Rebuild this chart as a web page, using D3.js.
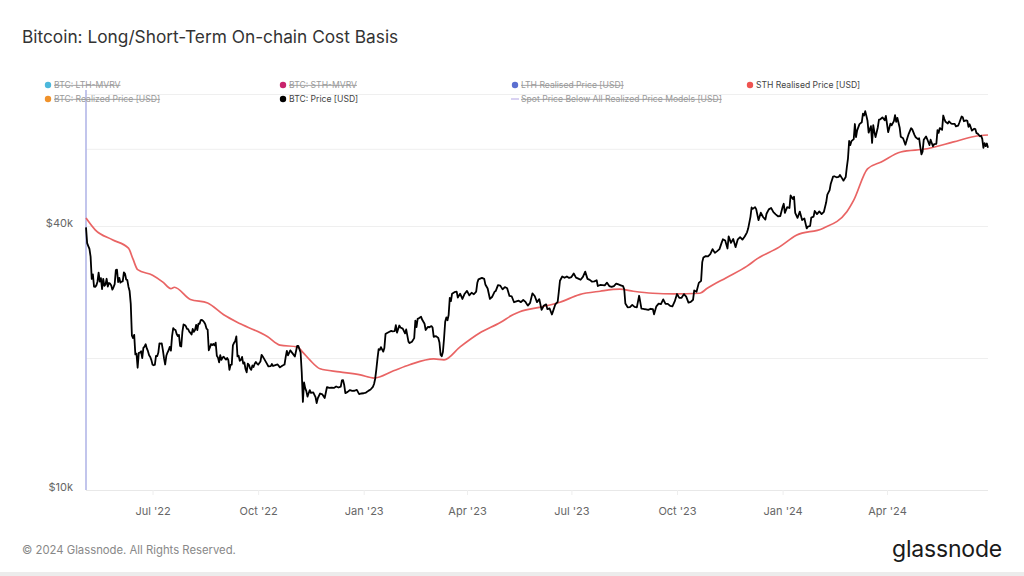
<!DOCTYPE html>
<html>
<head>
<meta charset="utf-8">
<script src="https://cdn.jsdelivr.net/npm/d3@7"></script>
<style>
  html, body { margin: 0; padding: 0; background: #fff; }
  svg { display: block; font-family: Inter, "Noto Sans", sans-serif; }
</style>
</head>
<body>
<svg id="chart" width="1024" height="576"></svg>
<script>
// ---------------- DATA ----------------
const chartTitle = "Bitcoin: Long/Short-Term On-chain Cost Basis";

const xTickDates = ["2022-07-01","2022-10-01","2023-01-01","2023-04-01","2023-07-01","2023-10-01","2024-01-01","2024-04-01"];
const xTickLabels = ["Jul '22","Oct '22","Jan '23","Apr '23","Jul '23","Oct '23","Jan '24","Apr '24"];

const yTickValues = [10000, 20000, 40000, 60000, 80000];
const yTickLabels = ["$10k", "", "$40k", "", ""];

const legendNames = ["BTC: LTH-MVRV","BTC: STH-MVRV","LTH Realised Price [USD]","STH Realised Price [USD]",
                     "BTC: Realized Price [USD]","BTC: Price [USD]","Spot Price Below All Realized Price Models [USD]"];
const legendColors = ["#4cb8dc","#c8236c","#5b6fd0","#ef5350","#f0922b","#000000","#d9d2f2"];
const legendActive = [false,false,false,true,false,true,false];

// STH Realised Price [USD]
const sthSeries = [
["2022-05-04",41700],["2022-05-12",39200],["2022-05-27",37200],["2022-06-10",35600],["2022-06-14",33600],
["2022-06-18",31800],["2022-07-01",30900],["2022-07-10",29800],["2022-07-17",28800],["2022-07-20",29000],
["2022-08-03",27200],["2022-08-18",26700],["2022-09-01",25100],["2022-09-16",23900],["2022-10-09",22400],
["2022-10-20",21400],["2022-11-04",21200],["2022-11-09",20600],["2022-11-15",19800],["2022-11-24",18900],
["2022-12-11",18600],["2022-12-29",18300],["2023-01-10",18000],["2023-01-27",18700],["2023-02-10",19300],
["2023-03-03",19900],["2023-03-12",19800],["2023-03-26",21200],["2023-04-12",22800],["2023-04-30",24100],
["2023-05-11",25100],["2023-05-17",25500],["2023-06-03",26100],["2023-06-21",26800],["2023-07-08",27900],
["2023-07-26",28400],["2023-08-12",28700],["2023-08-24",28400],["2023-09-10",28100],["2023-09-28",28000],
["2023-10-21",28100],["2023-10-27",28800],["2023-11-13",30500],["2023-12-01",32400],["2023-12-10",33700],
["2023-12-29",35800],["2024-01-13",38100],["2024-02-05",39500],["2024-02-26",43100],["2024-03-03",45800],
["2024-03-15",54000],["2024-03-27",56000],["2024-04-13",59000],["2024-05-06",60000],["2024-05-29",62200],
["2024-06-16",64000],["2024-06-28",64500]
];

// BTC: Price [USD]
const priceSeries = [
["2022-05-04",39700],["2022-05-05",36550],["2022-05-06",36000],["2022-05-07",35470],["2022-05-08",34060],
["2022-05-09",30300],["2022-05-10",31020],["2022-05-11",29100],["2022-05-12",29050],["2022-05-13",29280],
["2022-05-14",29860],["2022-05-15",31300],["2022-05-16",29880],["2022-05-17",30420],["2022-05-18",28700],
["2022-05-19",30300],["2022-05-20",29200],["2022-05-21",29430],["2022-05-22",30320],["2022-05-23",29100],
["2022-05-24",29650],["2022-05-25",29560],["2022-05-26",29270],["2022-05-27",28630],["2022-05-28",29030],
["2022-05-29",29470],["2022-05-30",31730],["2022-05-31",31800],["2022-06-01",29800],["2022-06-02",30470],
["2022-06-03",29700],["2022-06-04",29860],["2022-06-05",29900],["2022-06-06",31370],["2022-06-07",31130],
["2022-06-08",30200],["2022-06-09",30100],["2022-06-10",29090],["2022-06-11",28420],["2022-06-12",26570],
["2022-06-13",22490],["2022-06-14",22210],["2022-06-15",22580],["2022-06-16",20380],["2022-06-17",20470],
["2022-06-18",19000],["2022-06-19",20550],["2022-06-20",20570],["2022-06-21",20720],["2022-06-22",19980],
["2022-06-23",21090],["2022-06-24",21230],["2022-06-25",21500],["2022-06-26",21030],["2022-06-27",20730],
["2022-06-28",20280],["2022-06-29",20100],["2022-06-30",19780],["2022-07-01",19300],["2022-07-02",19250],
["2022-07-03",19300],["2022-07-04",20230],["2022-07-05",20190],["2022-07-06",20550],["2022-07-07",21600],
["2022-07-08",21580],["2022-07-09",21600],["2022-07-10",20850],["2022-07-11",19960],["2022-07-12",19330],
["2022-07-13",20230],["2022-07-14",20580],["2022-07-15",20830],["2022-07-16",21200],["2022-07-17",20790],
["2022-07-18",22430],["2022-07-19",23390],["2022-07-20",23230],["2022-07-21",23160],["2022-07-22",22690],
["2022-07-23",22450],["2022-07-24",22580],["2022-07-25",21310],["2022-07-26",21250],["2022-07-27",22950],
["2022-07-28",23850],["2022-07-29",23780],["2022-07-30",23650],["2022-07-31",23300],["2022-08-01",23270],
["2022-08-02",22980],["2022-08-03",22820],["2022-08-04",22630],["2022-08-05",23290],["2022-08-06",22950],
["2022-08-07",23170],["2022-08-08",23810],["2022-08-09",23160],["2022-08-10",23960],["2022-08-11",23940],
["2022-08-12",24400],["2022-08-13",24440],["2022-08-14",24310],["2022-08-15",24130],["2022-08-16",23860],
["2022-08-17",23340],["2022-08-18",23210],["2022-08-19",20830],["2022-08-20",21140],["2022-08-21",21520],
["2022-08-22",21400],["2022-08-23",21530],["2022-08-24",21370],["2022-08-25",21680],["2022-08-26",20240],
["2022-08-27",20040],["2022-08-28",19550],["2022-08-29",20290],["2022-08-30",19800],["2022-08-31",20050],
["2022-09-01",20130],["2022-09-02",19950],["2022-09-03",19830],["2022-09-04",20000],["2022-09-05",19800],
["2022-09-06",18800],["2022-09-07",19290],["2022-09-08",19320],["2022-09-09",21370],["2022-09-10",21650],
["2022-09-11",21830],["2022-09-12",22400],["2022-09-13",20170],["2022-09-14",20240],["2022-09-15",19700],
["2022-09-16",19800],["2022-09-17",20110],["2022-09-18",19420],["2022-09-19",19540],["2022-09-20",18880],
["2022-09-21",18550],["2022-09-22",19410],["2022-09-23",19300],["2022-09-24",18930],["2022-09-25",18800],
["2022-09-26",19230],["2022-09-27",19080],["2022-09-28",19410],["2022-09-29",19590],["2022-09-30",19420],
["2022-10-01",19310],["2022-10-03",19630],["2022-10-04",20340],["2022-10-05",20160],["2022-10-06",19960],
["2022-10-08",19550],["2022-10-10",19130],["2022-10-12",19160],["2022-10-13",19380],["2022-10-14",19180],
["2022-10-16",19270],["2022-10-18",19330],["2022-10-20",19040],["2022-10-22",19210],["2022-10-24",19330],
["2022-10-25",20090],["2022-10-26",20770],["2022-10-27",20290],["2022-10-29",20820],["2022-10-31",20490],
["2022-11-02",20160],["2022-11-04",21300],["2022-11-05",21310],["2022-11-07",20590],["2022-11-08",18540],
["2022-11-09",15880],["2022-11-10",17590],["2022-11-11",17070],["2022-11-12",16810],["2022-11-13",16330],
["2022-11-14",16620],["2022-11-15",16900],["2022-11-16",16660],["2022-11-18",16700],["2022-11-20",16280],
["2022-11-21",15790],["2022-11-22",16190],["2022-11-24",16600],["2022-11-26",16520],["2022-11-28",16210],
["2022-11-30",17170],["2022-12-02",17090],["2022-12-04",17110],["2022-12-06",17090],["2022-12-08",17220],
["2022-12-10",17130],["2022-12-12",17210],["2022-12-13",17780],["2022-12-14",17810],["2022-12-15",17360],
["2022-12-16",16630],["2022-12-18",16740],["2022-12-20",16900],["2022-12-22",16830],["2022-12-24",16840],
["2022-12-26",16920],["2022-12-28",16550],["2022-12-30",16600],["2023-01-01",16620],["2023-01-03",16680],
["2023-01-05",16830],["2023-01-07",16950],["2023-01-09",17180],["2023-01-10",17450],["2023-01-11",17940],
["2023-01-12",18850],["2023-01-13",19930],["2023-01-14",20950],["2023-01-15",20880],["2023-01-16",21180],
["2023-01-18",20680],["2023-01-19",21080],["2023-01-20",22680],["2023-01-21",22780],["2023-01-23",22930],
["2023-01-25",23060],["2023-01-26",23010],["2023-01-28",23030],["2023-01-29",23760],["2023-01-30",22850],
["2023-02-01",23720],["2023-02-02",23470],["2023-02-04",23330],["2023-02-06",22760],["2023-02-07",23240],
["2023-02-09",21800],["2023-02-10",21630],["2023-02-12",21790],["2023-02-14",22200],["2023-02-15",24330],
["2023-02-16",23520],["2023-02-17",24570],["2023-02-18",24630],["2023-02-20",24830],["2023-02-21",24440],
["2023-02-23",23940],["2023-02-24",23170],["2023-02-26",23560],["2023-02-27",23490],["2023-03-01",23650],
["2023-03-02",23470],["2023-03-03",22350],["2023-03-05",22430],["2023-03-07",22220],["2023-03-08",21700],
["2023-03-09",20360],["2023-03-10",20190],["2023-03-11",20630],["2023-03-12",22160],["2023-03-13",24200],
["2023-03-14",24750],["2023-03-15",24380],["2023-03-16",25060],["2023-03-17",27420],["2023-03-18",26970],
["2023-03-19",28040],["2023-03-21",28250],["2023-03-23",28330],["2023-03-24",27480],["2023-03-26",28030],
["2023-03-28",27270],["2023-03-30",28030],["2023-04-01",28450],["2023-04-03",27790],["2023-04-05",28170],
["2023-04-07",27950],["2023-04-09",28330],["2023-04-10",29680],["2023-04-11",30220],["2023-04-13",30390],
["2023-04-14",30470],["2023-04-16",30310],["2023-04-17",29430],["2023-04-19",28800],["2023-04-21",27270],
["2023-04-23",27590],["2023-04-25",28310],["2023-04-26",28420],["2023-04-28",29330],["2023-04-30",29250],
["2023-05-02",28680],["2023-05-04",29030],["2023-05-06",28850],["2023-05-08",27700],["2023-05-10",27630],
["2023-05-12",26800],["2023-05-14",26920],["2023-05-16",27020],["2023-05-18",26820],["2023-05-20",27120],
["2023-05-22",26850],["2023-05-24",26330],["2023-05-26",26720],["2023-05-28",28080],["2023-05-30",27700],
["2023-06-01",26820],["2023-06-03",27250],["2023-06-05",25750],["2023-06-07",26350],["2023-06-09",26500],
["2023-06-10",25850],["2023-06-12",25940],["2023-06-14",25130],["2023-06-15",25580],["2023-06-17",26510],
["2023-06-19",26840],["2023-06-20",28310],["2023-06-21",30000],["2023-06-23",30690],["2023-06-25",30480],
["2023-06-27",30690],["2023-06-29",30450],["2023-07-01",30590],["2023-07-03",31160],["2023-07-05",30510],
["2023-07-07",30350],["2023-07-09",30170],["2023-07-11",30620],["2023-07-13",31480],["2023-07-15",30300],
["2023-07-17",30140],["2023-07-19",29860],["2023-07-21",29910],["2023-07-23",30080],["2023-07-24",29180],
["2023-07-26",29350],["2023-07-28",29320],["2023-07-30",29280],["2023-08-01",29710],["2023-08-03",29180],
["2023-08-05",29050],["2023-08-07",29180],["2023-08-09",29560],["2023-08-11",29430],["2023-08-13",29300],
["2023-08-15",29170],["2023-08-16",28700],["2023-08-17",26620],["2023-08-19",26100],["2023-08-21",26120],
["2023-08-23",26440],["2023-08-25",26160],["2023-08-27",26100],["2023-08-29",27730],["2023-08-31",25930],
["2023-09-02",25870],["2023-09-04",25830],["2023-09-06",25750],["2023-09-08",25900],["2023-09-10",25840],
["2023-09-11",25160],["2023-09-13",26230],["2023-09-15",26600],["2023-09-17",26530],["2023-09-19",27210],
["2023-09-21",26580],["2023-09-23",26580],["2023-09-25",26300],["2023-09-27",26220],["2023-09-29",26910],
["2023-10-01",27990],["2023-10-03",27430],["2023-10-05",27430],["2023-10-07",27970],["2023-10-09",27600],
["2023-10-11",26750],["2023-10-13",26860],["2023-10-15",27160],["2023-10-16",28520],["2023-10-18",28330],
["2023-10-20",29670],["2023-10-22",29990],["2023-10-23",33090],["2023-10-24",33900],["2023-10-26",34150],
["2023-10-28",34090],["2023-10-30",34500],["2023-11-01",35420],["2023-11-03",34730],["2023-11-05",35050],
["2023-11-07",35420],["2023-11-09",36700],["2023-11-10",37310],["2023-11-12",37060],["2023-11-14",35550],
["2023-11-15",37880],["2023-11-17",36600],["2023-11-19",37360],["2023-11-21",35800],["2023-11-23",37290],
["2023-11-25",37720],["2023-11-27",37240],["2023-11-29",37850],["2023-12-01",38690],["2023-12-02",39460],
["2023-12-04",41980],["2023-12-05",44080],["2023-12-06",43770],["2023-12-08",44170],["2023-12-09",43710],
["2023-12-11",41240],["2023-12-13",42890],["2023-12-15",41930],["2023-12-17",41360],["2023-12-18",42660],
["2023-12-20",43650],["2023-12-22",43980],["2023-12-24",43010],["2023-12-26",42520],["2023-12-28",42100],
["2023-12-30",42150],["2024-01-01",44180],["2024-01-02",44950],["2024-01-03",42850],["2024-01-05",44150],
["2024-01-07",43970],["2024-01-08",46970],["2024-01-10",46100],["2024-01-11",46630],["2024-01-12",42850],
["2024-01-14",41730],["2024-01-16",43140],["2024-01-18",41270],["2024-01-20",41600],["2024-01-22",39500],
["2024-01-23",39850],["2024-01-25",40000],["2024-01-26",41810],["2024-01-28",42030],["2024-01-29",43290],
["2024-01-31",42580],["2024-02-02",43180],["2024-02-04",42580],["2024-02-06",43090],["2024-02-08",45300],
["2024-02-09",47150],["2024-02-11",48300],["2024-02-12",49960],["2024-02-14",51840],["2024-02-15",51940],
["2024-02-17",51660],["2024-02-19",51780],["2024-02-20",52280],["2024-02-22",51300],["2024-02-23",50750],
["2024-02-25",51730],["2024-02-26",54500],["2024-02-27",57070],["2024-02-28",62500],["2024-02-29",61200],
["2024-03-01",62440],["2024-03-03",63110],["2024-03-04",68330],["2024-03-05",63800],["2024-03-06",66110],
["2024-03-08",68300],["2024-03-10",68960],["2024-03-11",72120],["2024-03-12",71480],["2024-03-13",73080],
["2024-03-14",71400],["2024-03-15",69500],["2024-03-16",65300],["2024-03-18",67600],["2024-03-19",61900],
["2024-03-20",67900],["2024-03-21",65500],["2024-03-22",63800],["2024-03-24",67200],["2024-03-25",69960],
["2024-03-26",69990],["2024-03-28",70750],["2024-03-30",69700],["2024-03-31",71280],["2024-04-02",65470],
["2024-04-04",68500],["2024-04-05",67840],["2024-04-07",69360],["2024-04-08",71630],["2024-04-09",69150],
["2024-04-10",70590],["2024-04-12",67110],["2024-04-13",63900],["2024-04-15",63430],["2024-04-17",61280],
["2024-04-19",63820],["2024-04-20",64990],["2024-04-22",66840],["2024-04-23",66410],["2024-04-25",64480],
["2024-04-26",63760],["2024-04-28",63120],["2024-04-29",63410],["2024-04-30",60640],["2024-05-01",58250],
["2024-05-02",59120],["2024-05-03",62900],["2024-05-05",64030],["2024-05-06",63150],["2024-05-08",61190],
["2024-05-09",62930],["2024-05-11",60790],["2024-05-12",61450],["2024-05-14",61600],["2024-05-15",66200],
["2024-05-16",65230],["2024-05-17",66900],["2024-05-19",66270],["2024-05-20",71450],["2024-05-21",70140],
["2024-05-22",69130],["2024-05-24",68530],["2024-05-25",69300],["2024-05-27",68500],["2024-05-28",68360],
["2024-05-30",68350],["2024-05-31",67490],["2024-06-02",67760],["2024-06-03",68800],["2024-06-05",71080],
["2024-06-06",70790],["2024-06-07",69350],["2024-06-09",69650],["2024-06-10",69500],["2024-06-11",67320],
["2024-06-12",68240],["2024-06-14",66010],["2024-06-16",66650],["2024-06-17",66500],["2024-06-18",65140],
["2024-06-19",64960],["2024-06-21",64090],["2024-06-22",64250],["2024-06-23",63200],["2024-06-24",60280],
["2024-06-25",61800],["2024-06-26",60860],["2024-06-27",61670],["2024-06-28",60320]
];

// Dates flagged "Spot Price Below All Realized Price Models"
const spotBelowDates = ["2022-05-04"];

const xDomain = ["2022-05-04","2024-06-28"];
const yDomain = [10000, 80000];

// ---------------- DRAW ----------------
const parse = d3.timeParse("%Y-%m-%d");
const svg = d3.select("#chart");
const M = {left: 86, right: 988, top: 94, bottom: 490};

svg.append("rect").attr("width",1024).attr("height",576).attr("fill","#fff");

const x = d3.scaleTime().domain(xDomain.map(parse)).range([M.left, M.right]);
const y = d3.scaleLog().domain(yDomain).range([M.bottom, M.top]);

// title
svg.append("text").attr("x",22).attr("y",43)
  .attr("font-size",17.3).attr("fill","#333").text(chartTitle);

// horizontal gridlines
const gridAxis = d3.axisLeft(y).tickValues(yTickValues).tickSize(-(M.right - M.left)).tickFormat("");
const gg = svg.append("g").attr("transform",`translate(${M.left},0)`).call(gridAxis);
gg.select(".domain").remove();
gg.selectAll(".tick line").attr("stroke","#efefef").attr("stroke-width",1);

// y labels
const yAxis = d3.axisLeft(y).tickValues(yTickValues).tickSize(0).tickPadding(13)
  .tickFormat((d,i) => yTickLabels[i]);
const ya = svg.append("g").attr("transform",`translate(${M.left},0)`).call(yAxis);
ya.select(".domain").remove();
ya.selectAll("text").attr("font-family","Inter, 'Noto Sans', sans-serif")
  .attr("font-size",11).attr("fill","#666").attr("dy","0.05em");

// x axis
const xAxis = d3.axisBottom(x).tickValues(xTickDates.map(parse)).tickSize(5).tickPadding(12)
  .tickFormat((d,i) => xTickLabels[i]);
const xa = svg.append("g").attr("transform",`translate(0,${M.bottom})`).call(xAxis);
xa.select(".domain").attr("stroke","#e8e8e8").attr("d",`M${M.left},0.5H${M.right}`);
xa.selectAll(".tick line").attr("stroke","#eeeeee");
xa.selectAll("text").attr("font-family","Inter, 'Noto Sans', sans-serif")
  .attr("font-size",11).attr("fill","#666");

// spot below all realized price models marker
svg.selectAll("rect.spot").data(spotBelowDates).enter().append("rect")
  .attr("class","spot")
  .attr("x", d => x(parse(d)) - 0.75).attr("width",1.5)
  .attr("y", M.top - 4).attr("height", M.bottom - M.top + 4)
  .attr("fill","#aeb3e6");

// STH realised price line
const sthLine = d3.line().x(d => x(parse(d[0]))).y(d => y(d[1])).curve(d3.curveMonotoneX);
svg.append("path").datum(sthSeries).attr("d",sthLine)
  .attr("fill","none").attr("stroke","#e85c5c").attr("stroke-width",1.7).attr("stroke-opacity",0.95);

// price line
const priceLine = d3.line().x(d => x(parse(d[0]))).y(d => y(d[1]));
svg.append("path").datum(priceSeries).attr("d",priceLine)
  .attr("fill","none").attr("stroke","#000").attr("stroke-width",1.8).attr("stroke-linejoin","round");

// legend
const legendX = [48, 283, 515, 750];
const legendY = [85, 99];
const lg = svg.append("g");
legendNames.forEach((name, i) => {
  const col = i < 4 ? i : i - 4;
  const row = i < 4 ? 0 : 1;
  const gx = legendX[col], gy = legendY[row];
  const g = lg.append("g");
  if (i === 6) {
    g.append("line").attr("x1",gx-4).attr("x2",gx+4).attr("y1",gy).attr("y2",gy)
      .attr("stroke",legendColors[i]).attr("stroke-width",2);
  } else {
    g.append("circle").attr("cx",gx).attr("cy",gy).attr("r",3.2).attr("fill",legendColors[i]);
  }
  g.append("text").attr("x",gx+6).attr("y",gy).attr("dy","0.35em")
    .attr("font-size",8.6).attr("fill", legendActive[i] ? "#444" : "#9a9a9a")
    .style("text-decoration", legendActive[i] ? "none" : "line-through")
    .text(name);
});

// footer
svg.append("text").attr("x",22).attr("y",554).attr("font-size",11.3).attr("fill","#888")
  .text("© 2024 Glassnode. All Rights Reserved.");
svg.append("text").attr("x",1002).attr("y",557).attr("text-anchor","end")
  .attr("font-size",23).attr("font-weight",400).attr("fill","#1a1a1a").attr("letter-spacing","-0.2")
  .text("glassnode");
svg.append("rect").attr("x",0).attr("y",572).attr("width",1024).attr("height",4).attr("fill","#ececec");
</script>
</body>
</html>
